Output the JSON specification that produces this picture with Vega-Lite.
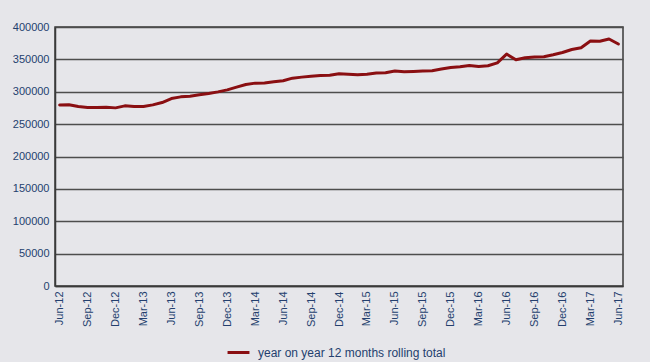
{
  "$schema": "https://vega.github.io/schema/vega-lite/v6.json",
  "width": 568,
  "height": 259,
  "autosize": {"type": "none"},
  "padding": {"left": 55, "top": 27, "right": 27, "bottom": 76},
  "background": "#e6e6ea",
  "config": {
    "font": "Liberation Sans",
    "view": {"stroke": "#3a3a3a", "strokeWidth": 1.5, "fill": "#e6e6ea"}
  },
  "data": {
    "values": [
      {"m": "Jun-12", "v": 279500}, {"m": "Jul-12", "v": 280000}, {"m": "Aug-12", "v": 277100},
      {"m": "Sep-12", "v": 275800}, {"m": "Oct-12", "v": 275800}, {"m": "Nov-12", "v": 276000},
      {"m": "Dec-12", "v": 275100}, {"m": "Jan-13", "v": 278200}, {"m": "Feb-13", "v": 277300},
      {"m": "Mar-13", "v": 277300}, {"m": "Apr-13", "v": 279700}, {"m": "May-13", "v": 283300},
      {"m": "Jun-13", "v": 289500}, {"m": "Jul-13", "v": 292100}, {"m": "Aug-13", "v": 293200},
      {"m": "Sep-13", "v": 295200}, {"m": "Oct-13", "v": 297200}, {"m": "Nov-13", "v": 299800},
      {"m": "Dec-13", "v": 302900}, {"m": "Jan-14", "v": 307100}, {"m": "Feb-14", "v": 311100},
      {"m": "Mar-14", "v": 313300}, {"m": "Apr-14", "v": 313600}, {"m": "May-14", "v": 315300},
      {"m": "Jun-14", "v": 316900}, {"m": "Jul-14", "v": 321000}, {"m": "Aug-14", "v": 322600},
      {"m": "Sep-14", "v": 324100}, {"m": "Oct-14", "v": 325100}, {"m": "Nov-14", "v": 325600},
      {"m": "Dec-14", "v": 327700}, {"m": "Jan-15", "v": 327200}, {"m": "Feb-15", "v": 326200},
      {"m": "Mar-15", "v": 327200}, {"m": "Apr-15", "v": 328800}, {"m": "May-15", "v": 329300},
      {"m": "Jun-15", "v": 331900}, {"m": "Jul-15", "v": 330900}, {"m": "Aug-15", "v": 331400},
      {"m": "Sep-15", "v": 331900}, {"m": "Oct-15", "v": 332500}, {"m": "Nov-15", "v": 335000},
      {"m": "Dec-15", "v": 337500}, {"m": "Jan-16", "v": 338600}, {"m": "Feb-16", "v": 340600},
      {"m": "Mar-16", "v": 339100}, {"m": "Apr-16", "v": 340100}, {"m": "May-16", "v": 344700},
      {"m": "Jun-16", "v": 358200}, {"m": "Jul-16", "v": 349400}, {"m": "Aug-16", "v": 352500},
      {"m": "Sep-16", "v": 353500}, {"m": "Oct-16", "v": 354100}, {"m": "Nov-16", "v": 357100},
      {"m": "Dec-16", "v": 360700}, {"m": "Jan-17", "v": 365300}, {"m": "Feb-17", "v": 368000},
      {"m": "Mar-17", "v": 378300}, {"m": "Apr-17", "v": 378000}, {"m": "May-17", "v": 381400},
      {"m": "Jun-17", "v": 373700}
    ]
  },
  "mark": {"type": "line", "strokeWidth": 3, "strokeCap": "round", "strokeJoin": "round"},
  "encoding": {
    "x": {
      "field": "m",
      "type": "ordinal",
      "sort": null,
      "scale": {"type": "point", "padding": 0.5},
      "axis": {
        "title": null,
        "values": ["Jun-12", "Sep-12", "Dec-12", "Mar-13", "Jun-13", "Sep-13", "Dec-13", "Mar-14", "Jun-14", "Sep-14", "Dec-14", "Mar-15", "Jun-15", "Sep-15", "Dec-15", "Mar-16", "Jun-16", "Sep-16", "Dec-16", "Mar-17", "Jun-17"],
        "labelAngle": 270,
        "labelAlign": "right",
        "labelBaseline": "middle",
        "labelFontSize": 11,
        "labelColor": "#243f6e",
        "labelPadding": 5,
        "ticks": false,
        "domainColor": "#3a3a3a",
        "domainWidth": 1.5,
        "grid": false
      }
    },
    "y": {
      "field": "v",
      "type": "quantitative",
      "scale": {"domain": [0, 400000], "nice": false},
      "axis": {
        "title": null,
        "values": [0, 50000, 100000, 150000, 200000, 250000, 300000, 350000, 400000],
        "format": "d",
        "labelFontSize": 11,
        "labelColor": "#243f6e",
        "labelPadding": 6,
        "ticks": false,
        "domainColor": "#3a3a3a",
        "domainWidth": 1.5,
        "grid": true,
        "gridColor": "#4d4d4d",
        "gridWidth": 1.5
      }
    },
    "color": {
      "datum": "year on year 12 months rolling total",
      "type": "nominal",
      "scale": {"range": ["#8a0f12"]},
      "legend": {
        "title": null,
        "orient": "none",
        "legendX": 171,
        "legendY": 313,
        "direction": "horizontal",
        "symbolType": "stroke",
        "symbolStrokeWidth": 3,
        "symbolSize": 480,
        "labelFontSize": 12,
        "labelLimit": 0,
        "labelOffset": 7,
        "labelColor": "#243f6e"
      }
    }
  }
}
